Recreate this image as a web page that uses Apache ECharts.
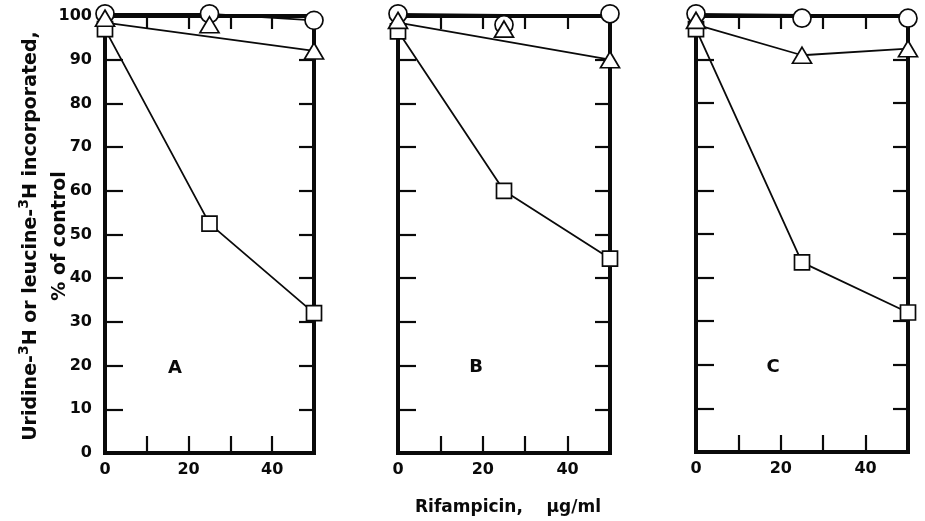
<!DOCTYPE html>
<html><head><meta charset="utf-8">
<script src="https://cdn.jsdelivr.net/npm/echarts@6/dist/echarts.min.js"></script>
<style>html,body{margin:0;padding:0;background:#fff}#c{width:925px;height:521px}</style>
</head><body><div id="c"></div>
<script>
// ---- data ----
const doses = [0, 25, 50];
const panels = ['A', 'B', 'C'];
const circA = [100.5, 100.5, 99];
const triA  = [99.5, 98, 92];
const sqA   = [97, 52.5, 32];
const circB = [100.5, 98, 100.5];
const triB  = [99, 97, 90];
const sqB   = [96.5, 60, 44.5];
const circC = [100.5, 99.5, 99.5];
const triC  = [99, 91, 92.5];
const sqC   = [97, 43.5, 32];
// connecting lines as drawn
const triLineA = [[0, 98.5], [50, 92]];
const triLineB = [[0, 98.5], [50, 90]];
const triLineC = [[0, 98], [25, 91], [50, 92.5]];
const circLineA = [[0, 100.5], [25, 100.5], [50, 99]];
const circLineB = [[0, 100.5], [50, 100]];
const circLineC = [[0, 100.5], [50, 100]];
const yTicks = [0, 10, 20, 30, 40, 50, 60, 70, 80, 90, 100];
const xTicks = [0, 10, 20, 30, 40, 50];
const xLabels = ['0', '20', '40'];

const circs = [circA, circB, circC];
const tris = [triA, triB, triC];
const sqs = [sqA, sqB, sqC];
const triLines = [triLineA, triLineB, triLineC];
const circLines = [circLineA, circLineB, circLineC];

const INK = '#0a0a0a';
const FONT = 'DejaVu Sans';
const grids = [
  {left: 105, top: 16, width: 209, height: 437},
  {left: 398, top: 16, width: 212, height: 437},
  {left: 696, top: 16, width: 212, height: 436}
];
const xAxes = [], yAxes = [], series = [];
grids.forEach((g, i) => {
  const axLine = {show: true, onZero: false, lineStyle: {color: INK, width: 4, cap: 'square'}};
  xAxes.push({
    gridIndex: i, type: 'value', min: xTicks[0], max: xTicks[xTicks.length-1], interval: 10, position: 'bottom',
    axisLine: axLine, splitLine: {show: false},
    axisTick: {inside: true, length: 17, lineStyle: {color: INK, width: 2.2}},
    axisLabel: {margin: 9, color: INK, fontFamily: FONT, fontSize: 16, fontWeight: 'bold',
      formatter: v => xLabels.indexOf(String(v)) >= 0 ? String(v) : ''}
  });
  xAxes.push({
    gridIndex: i, type: 'value', min: 0, max: 50, interval: 10, position: 'top',
    axisLine: axLine, splitLine: {show: false},
    axisTick: {inside: true, length: 13, lineStyle: {color: INK, width: 2.2}},
    axisLabel: {show: false}
  });
  yAxes.push({
    gridIndex: i, type: 'value', min: yTicks[0], max: yTicks[yTicks.length-1], interval: 10, position: 'left',
    axisLine: axLine, splitLine: {show: false},
    axisTick: {inside: true, length: 18, lineStyle: {color: INK, width: 2.2}},
    axisLabel: {show: i === 0, margin: 13, color: INK, fontFamily: FONT, fontSize: 16, fontWeight: 'bold'}
  });
  yAxes.push({
    gridIndex: i, type: 'value', min: 0, max: 100, interval: 10, position: 'right',
    axisLine: axLine, splitLine: {show: false},
    axisTick: {inside: true, length: 15, lineStyle: {color: INK, width: 2.2}},
    axisLabel: {show: false}
  });
  const xi = i * 2, yi = i * 2;
  const mk = {color: '#fff', borderColor: INK, borderWidth: 1.7, opacity: 1};
  series.push({
    type: 'line', xAxisIndex: xi, yAxisIndex: yi, clip: false, z: 3,
    data: doses.map((d, k) => [d, sqs[i][k]]),
    symbol: 'rect', symbolSize: 15, showAllSymbol: true,
    lineStyle: {color: INK, width: 1.8}, itemStyle: mk
  });
  series.push({
    type: 'line', xAxisIndex: xi, yAxisIndex: yi, clip: false, z: 3,
    data: triLines[i], symbol: 'none', lineStyle: {color: INK, width: 1.8}
  });
  series.push({
    type: 'line', xAxisIndex: xi, yAxisIndex: yi, clip: false, z: 3,
    data: circLines[i], symbol: 'none', lineStyle: {color: INK, width: 1.8}
  });
  series.push({
    type: 'scatter', xAxisIndex: xi, yAxisIndex: yi, clip: false, z: 4,
    data: doses.map((d, k) => [d, circs[i][k]]),
    symbol: 'circle', symbolSize: 18, itemStyle: mk
  });
  series.push({
    type: 'scatter', xAxisIndex: xi, yAxisIndex: yi, clip: false, z: 5,
    data: doses.map((d, k) => [d, tris[i][k]]),
    symbol: 'triangle', symbolSize: [19, 16], itemStyle: mk
  });
});

const chart = echarts.init(document.getElementById('c'), null, {renderer: 'canvas'});
chart.setOption({
  animation: false,
  backgroundColor: '#fff',
  grid: grids,
  xAxis: xAxes,
  yAxis: yAxes,
  series: series,
  graphic: [
    {type: 'text', x: 46, y: 236, rotation: Math.PI / 2,
      style: {
        text: '{a|Uridine-}{s|3}{a|H or leucine-}{s|3}{a|H incorporated,}\n{a|% of control}',
        align: 'center', verticalAlign: 'middle', fill: INK,
        rich: {
          a: {fontFamily: FONT, fontSize: 19, fontWeight: 'bold', lineHeight: 29, fill: INK},
          s: {fontFamily: FONT, fontSize: 14, fontWeight: 'bold', lineHeight: 29, verticalAlign: 'top', padding: [0, 0, 12, 0], fill: INK}
        }
      }},
    {type: 'text', x: 508, y: 508, style: {text: 'Rifampicin,    \u03bcg/ml', align: 'center', verticalAlign: 'middle',
      fontFamily: FONT, fontSize: 17, fontWeight: 'bold', fill: INK}},
    {type: 'text', x: 175, y: 368, style: {text: panels[0], align: 'center', verticalAlign: 'middle', fontFamily: FONT, fontSize: 18, fontWeight: 'bold', fill: INK}},
    {type: 'text', x: 476, y: 367, style: {text: panels[1], align: 'center', verticalAlign: 'middle', fontFamily: FONT, fontSize: 18, fontWeight: 'bold', fill: INK}},
    {type: 'text', x: 773, y: 367, style: {text: panels[2], align: 'center', verticalAlign: 'middle', fontFamily: FONT, fontSize: 18, fontWeight: 'bold', fill: INK}}
  ]
});
</script></body></html>
